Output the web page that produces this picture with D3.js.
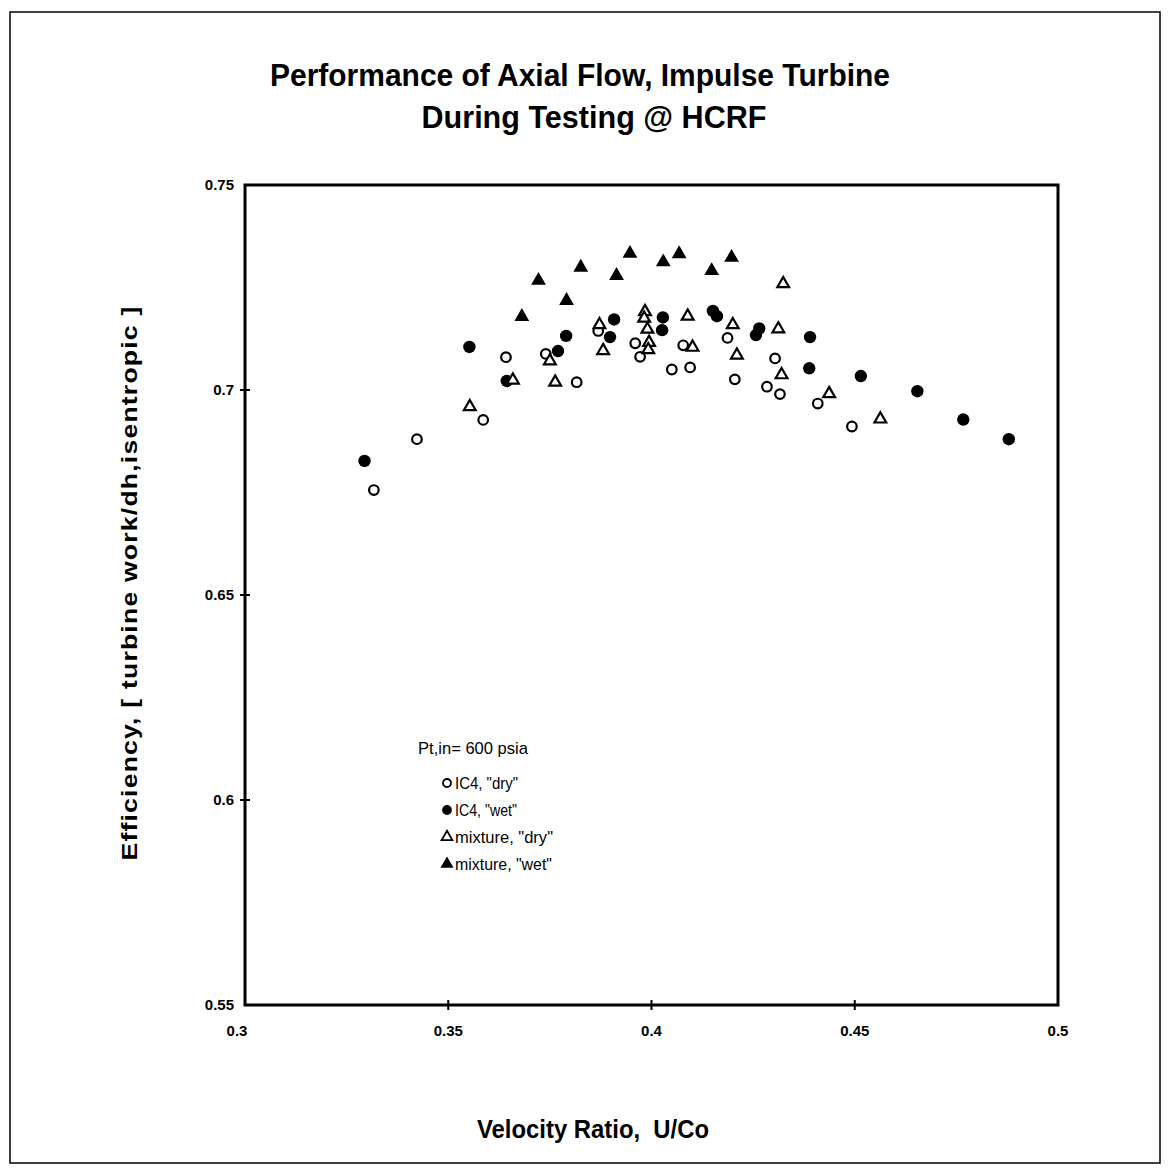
<!DOCTYPE html>
<html>
<head>
<meta charset="utf-8">
<script src="https://cdn.jsdelivr.net/npm/d3@7"></script>
<style>
  body { margin: 0; background: #fff; }
  svg text { font-family: "Liberation Sans Narrow", "Liberation Sans", Arial, sans-serif; fill: #000; }
</style>
</head>
<body>
<div class="plot"></div>
<script>
// DATA
var ic4DryX = [0.3317, 0.3423, 0.3586, 0.3642, 0.3740, 0.3816, 0.3869, 0.3960, 0.3972, 0.4050,
               0.4078, 0.4095, 0.4187, 0.4205, 0.4284, 0.4304, 0.4316, 0.4409, 0.4493];
var ic4DryY = [0.6756, 0.6880, 0.6927, 0.7080, 0.7088, 0.7019, 0.7144, 0.7114, 0.7081, 0.7050,
               0.7109, 0.7055, 0.7127, 0.7026, 0.7008, 0.7077, 0.6990, 0.6967, 0.6911];

var ic4WetX = [0.3294, 0.3552, 0.3644, 0.3770, 0.3790, 0.3898, 0.3908, 0.4026, 0.4028, 0.4151,
               0.4161, 0.4257, 0.4265, 0.4390, 0.4388, 0.4515, 0.4654, 0.4767, 0.4879];
var ic4WetY = [0.6827, 0.7105, 0.7022, 0.7095, 0.7132, 0.7129, 0.7172, 0.7146, 0.7177, 0.7193,
               0.7180, 0.7134, 0.7150, 0.7129, 0.7053, 0.7034, 0.6997, 0.6928, 0.6880];

var mixDryX = [0.3553, 0.3659, 0.3750, 0.3763, 0.3872, 0.3881, 0.3984, 0.3982, 0.3990, 0.3994,
               0.3992, 0.4089, 0.4101, 0.4200, 0.4210, 0.4312, 0.4320, 0.4437, 0.4563, 0.4324];
var mixDryY = [0.6959, 0.7024, 0.7071, 0.7019, 0.7159, 0.7096, 0.7191, 0.7175, 0.7148, 0.7116,
               0.7098, 0.7180, 0.7104, 0.7159, 0.7085, 0.7149, 0.7037, 0.6991, 0.6929, 0.7259];

var mixWetX = [0.3681, 0.3722, 0.3791, 0.3826, 0.3914, 0.3947, 0.4029, 0.4068, 0.4148, 0.4197];
var mixWetY = [0.7179, 0.7267, 0.7218, 0.7299, 0.7279, 0.7333, 0.7312, 0.7332, 0.7291, 0.7323];

var xTicks = [0.3, 0.35, 0.4, 0.45, 0.5];
var xTickLabels = ["0.3", "0.35", "0.4", "0.45", "0.5"];
var yTicks = [0.55, 0.6, 0.65, 0.7, 0.75];
var yTickLabels = ["0.55", "0.6", "0.65", "0.7", "0.75"];

var legendHeader = "Pt,in= 600 psia";
var legendLabels = ["IC4, \"dry\"", "IC4, \"wet\"", "mixture, \"dry\"", "mixture, \"wet\""];
var legendSymbols = ["circle", "circle", "triangle", "triangle"];
var legendFilled = [false, true, false, true];

// GLOBALS
var w = 1169;
var h = 1176;

var svg = d3.select(".plot").append("svg").attr("width", w).attr("height", h);

// page frame
svg.append("rect")
  .attr("x", 10).attr("y", 12)
  .attr("width", 1150).attr("height", 1151)
  .attr("fill", "none").attr("stroke", "#000").attr("stroke-width", 1.5);

// SCALES
var xScale = d3.scaleLinear().domain([0.3, 0.5]).range([245, 1058]);
var yScale = d3.scaleLinear().domain([0.55, 0.75]).range([1005, 185]);

// plot frame
svg.append("rect")
  .attr("x", xScale(0.3)).attr("y", yScale(0.75))
  .attr("width", xScale(0.5) - xScale(0.3))
  .attr("height", yScale(0.55) - yScale(0.75))
  .attr("fill", "none").attr("stroke", "#000").attr("stroke-width", 3);

// AXES - ticks crossing the frame, labels outside
svg.selectAll(".xtick")
  .data(xTicks.slice(1, 4))
  .enter().append("line")
  .attr("x1", function (d) { return xScale(d); })
  .attr("x2", function (d) { return xScale(d); })
  .attr("y1", yScale(0.55) - 5).attr("y2", yScale(0.55) + 5)
  .attr("stroke", "#000").attr("stroke-width", 2);

svg.selectAll(".ytick")
  .data(yTicks.slice(1, 4))
  .enter().append("line")
  .attr("x1", xScale(0.3) - 5).attr("x2", xScale(0.3) + 5)
  .attr("y1", function (d) { return yScale(d); })
  .attr("y2", function (d) { return yScale(d); })
  .attr("stroke", "#000").attr("stroke-width", 2);

svg.selectAll(".xlabel")
  .data(xTicks)
  .enter().append("text")
  .attr("x", function (d) { return xScale(d) - (d === 0.3 ? 8 : 0); })
  .attr("y", 1036)
  .attr("text-anchor", "middle")
  .attr("font-size", "15px")
  .attr("font-weight", "bold")
  .text(function (d, i) { return xTickLabels[i]; });

svg.selectAll(".ylabel")
  .data(yTicks)
  .enter().append("text")
  .attr("x", xScale(0.3) - 11)
  .attr("y", function (d) { return yScale(d) + 5; })
  .attr("text-anchor", "end")
  .attr("font-size", "15px")
  .attr("font-weight", "bold")
  .text(function (d, i) { return yTickLabels[i]; });

// TITLES
svg.append("text")
  .attr("x", 580).attr("y", 86)
  .attr("text-anchor", "middle")
  .attr("font-size", "31px").attr("font-weight", "bold")
  .attr("textLength", 620).attr("lengthAdjust", "spacingAndGlyphs")
  .text("Performance of Axial Flow, Impulse Turbine");

svg.append("text")
  .attr("x", 594).attr("y", 128)
  .attr("text-anchor", "middle")
  .attr("font-size", "31px").attr("font-weight", "bold")
  .attr("textLength", 345).attr("lengthAdjust", "spacingAndGlyphs")
  .text("During Testing @ HCRF");

svg.append("text")
  .attr("x", 593).attr("y", 1138)
  .attr("text-anchor", "middle")
  .attr("font-size", "26px").attr("font-weight", "bold")
  .attr("textLength", 232).attr("lengthAdjust", "spacingAndGlyphs")
  .text("Velocity Ratio,\u00a0\u00a0U/Co");

svg.append("text")
  .attr("transform", "translate(137," + 583 + ") rotate(-90)")
  .attr("text-anchor", "middle")
  .attr("font-size", "22px").attr("font-weight", "bold")
  .attr("textLength", 555).attr("lengthAdjust", "spacingAndGlyphs")
  .attr("letter-spacing", "1px")
  .text("Efficiency,  [ turbine work/dh,isentropic ]");

// POINTS
function pairs(xs, ys) {
  return xs.map(function (x, i) { return { x: x, y: ys[i] }; });
}

var tri = d3.symbol().type(d3.symbolTriangle);

// open circles
svg.append("g").selectAll("circle")
  .data(pairs(ic4DryX, ic4DryY))
  .enter().append("circle")
  .attr("cx", function (d) { return xScale(d.x); })
  .attr("cy", function (d) { return yScale(d.y); })
  .attr("r", 4.8)
  .attr("fill", "#fff").attr("stroke", "#000").attr("stroke-width", 2.2);

// filled circles
svg.append("g").selectAll("circle")
  .data(pairs(ic4WetX, ic4WetY))
  .enter().append("circle")
  .attr("cx", function (d) { return xScale(d.x); })
  .attr("cy", function (d) { return yScale(d.y); })
  .attr("r", 6.2)
  .attr("fill", "#000");

// open triangles
svg.append("g").selectAll("path")
  .data(pairs(mixDryX, mixDryY))
  .enter().append("path")
  .attr("d", tri.size(60)())
  .attr("transform", function (d) { return "translate(" + xScale(d.x) + "," + yScale(d.y) + ")"; })
  .attr("fill", "#fff").attr("stroke", "#000").attr("stroke-width", 2.2);

// filled triangles
svg.append("g").selectAll("path")
  .data(pairs(mixWetX, mixWetY))
  .enter().append("path")
  .attr("d", tri.size(95)())
  .attr("transform", function (d) { return "translate(" + xScale(d.x) + "," + yScale(d.y) + ")"; })
  .attr("fill", "#000");

// LEGEND
svg.append("text")
  .attr("x", 418).attr("y", 754)
  .attr("font-size", "17px")
  .attr("textLength", 110).attr("lengthAdjust", "spacingAndGlyphs")
  .text(legendHeader);

var legend = svg.append("g").selectAll("g")
  .data(legendLabels)
  .enter().append("g")
  .attr("transform", function (d, i) { return "translate(447," + (783 + i * 27) + ")"; });

legend.append("path")
  .attr("d", function (d, i) {
    var sym = legendSymbols[i] === "circle" ? d3.symbolCircle : d3.symbolTriangle;
    return d3.symbol().type(sym).size(legendFilled[i] ? 75 : 50)();
  })
  .attr("fill", function (d, i) { return legendFilled[i] ? "#000" : "#fff"; })
  .attr("stroke", "#000")
  .attr("stroke-width", function (d, i) { return legendFilled[i] ? 0 : 1.8; });

legend.append("text")
  .attr("x", 8).attr("y", 6)
  .attr("font-size", "16px")
  .attr("textLength", function (d, i) { return [63, 62, 98, 97][i]; })
  .attr("lengthAdjust", "spacingAndGlyphs")
  .text(function (d) { return d; });
</script>
</body>
</html>
